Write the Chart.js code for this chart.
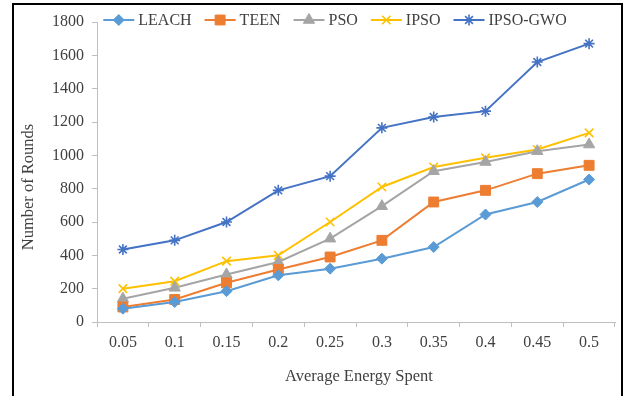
<!DOCTYPE html>
<html>
<head>
<meta charset="utf-8">
<script src="https://cdn.jsdelivr.net/npm/chart.js@4/dist/chart.umd.min.js"></script>
<style>
  html, body { margin: 0; padding: 0; background: #fff; overflow: hidden; }
  #wrap { position: relative; width: 625px; height: 396px; }
  #frame {
    position: absolute; left: 12px; top: 3px; width: 611px; height: 420px;
    box-sizing: border-box; border: 2px solid #000; pointer-events: none;
  }
  canvas { position: absolute; left: 0; top: 0; }
</style>
</head>
<body>
<div id="wrap">
  <canvas id="roundsChart" width="625" height="396"></canvas>
  <div id="frame"></div>
</div>
<script>
const energySpent = ['0.05', '0.1', '0.15', '0.2', '0.25', '0.3', '0.35', '0.4', '0.45', '0.5'];
const leachRounds = [80, 120, 185, 280, 320, 380, 450, 645, 720, 855];
const teenRounds = [90, 135, 235, 315, 390, 490, 720, 790, 890, 940];
const psoRounds = [140, 205, 285, 360, 500, 695, 905, 960, 1025, 1065];
const ipsoRounds = [200, 245, 365, 400, 600, 810, 930, 985, 1035, 1135];
const ipsoGwoRounds = [435, 490, 600, 790, 875, 1165, 1230, 1265, 1560, 1670];
const yTicks = { min: 0, max: 1800, step: 200 };

const FONT = '"Liberation Serif", "Times New Roman", serif';
const TEXT = '#404040';
const AXIS = '#bfbfbf';

function series(label, data, color, style, radius, bw) {
  return {
    label: label,
    data: data,
    borderColor: color,
    backgroundColor: color,
    pointBackgroundColor: color,
    pointBorderColor: color,
    pointStyle: style,
    pointRadius: radius,
    pointBorderWidth: bw,
    borderWidth: 2,
    fill: false,
    tension: 0
  };
}

// legend drawn as line + marker, the way office charts show it
const lineLegend = {
  id: 'lineLegend',
  afterDraw(chart) {
    const ctx = chart.ctx;
    const lineW = 31, textGap = 4, itemGap = 13, cx = 335, cy = 20;
    ctx.save();
    ctx.font = '16px ' + FONT;
    const items = chart.data.datasets.map(ds => ({ ds: ds, w: lineW + textGap + ctx.measureText(ds.label).width }));
    const total = items.reduce((s, it) => s + it.w, 0) + itemGap * (items.length - 1);
    let x = cx - total / 2;
    items.forEach(({ ds, w }) => {
      ctx.strokeStyle = ds.borderColor;
      ctx.lineWidth = ds.borderWidth;
      ctx.beginPath();
      ctx.moveTo(x, cy);
      ctx.lineTo(x + lineW, cy);
      ctx.stroke();
      ctx.fillStyle = ds.pointBackgroundColor;
      ctx.strokeStyle = ds.pointBorderColor;
      ctx.lineWidth = ds.pointBorderWidth;
      Chart.helpers.drawPoint(ctx, { pointStyle: ds.pointStyle, radius: ds.pointRadius, borderWidth: ds.pointBorderWidth, rotation: 0 }, x + lineW / 2, cy);
      ctx.fillStyle = TEXT;
      ctx.textAlign = 'left';
      ctx.textBaseline = 'middle';
      ctx.fillText(ds.label, x + lineW + textGap, cy + 1);
      x += w + itemGap;
    });
    ctx.restore();
  }
};

// axis titles
const axisTitles = {
  id: 'axisTitles',
  afterDraw(chart) {
    const ctx = chart.ctx;
    const area = chart.chartArea;
    ctx.save();
    ctx.font = '16.5px ' + FONT;
    ctx.fillStyle = TEXT;
    ctx.textAlign = 'center';
    ctx.textBaseline = 'middle';
    ctx.fillText('Average Energy Spent', (area.left + area.right) / 2 + 3, 377);
    ctx.translate(29, 187);
    ctx.rotate(-Math.PI / 2);
    ctx.fillText('Number of Rounds', 0, 0);
    ctx.restore();
  }
};

new Chart(document.getElementById('roundsChart').getContext('2d'), {
  type: 'line',
  data: {
    labels: energySpent,
    datasets: [
      series('LEACH', leachRounds, '#5b9bd5', 'rectRot', 5.5, 1),
      series('TEEN', teenRounds, '#ed7d31', 'rect', 7, 1),
      series('PSO', psoRounds, '#a5a5a5', 'triangle', 6.5, 1),
      series('IPSO', ipsoRounds, '#ffc000', 'crossRot', 6, 1.6),
      series('IPSO-GWO', ipsoGwoRounds, '#4472c4', 'star', 5.5, 1.6)
    ]
  },
  options: {
    responsive: false,
    animation: false,
    devicePixelRatio: 1,
    layout: { padding: { top: 22, right: 10, left: 0, bottom: 0 } },
    plugins: {
      legend: { display: false },
      tooltip: { enabled: false }
    },
    scales: {
      x: {
        offset: true,
        grid: { offset: true, drawOnChartArea: false, tickLength: 5, color: AXIS },
        border: { color: AXIS, width: 1 },
        ticks: { color: TEXT, font: { family: FONT, size: 16 }, padding: 6, maxRotation: 0 },
        afterFit(scale) { scale.height = 74; }
      },
      y: {
        min: yTicks.min,
        max: yTicks.max,
        grid: { drawOnChartArea: false, tickLength: 5, color: AXIS },
        border: { color: AXIS, width: 1 },
        ticks: {
          stepSize: yTicks.step,
          color: TEXT,
          font: { family: FONT, size: 16 },
          padding: 8,
          callback: v => String(v)
        },
        afterFit(scale) { scale.width = 97; }
      }
    }
  },
  plugins: [lineLegend, axisTitles]
});
</script>
</body>
</html>
